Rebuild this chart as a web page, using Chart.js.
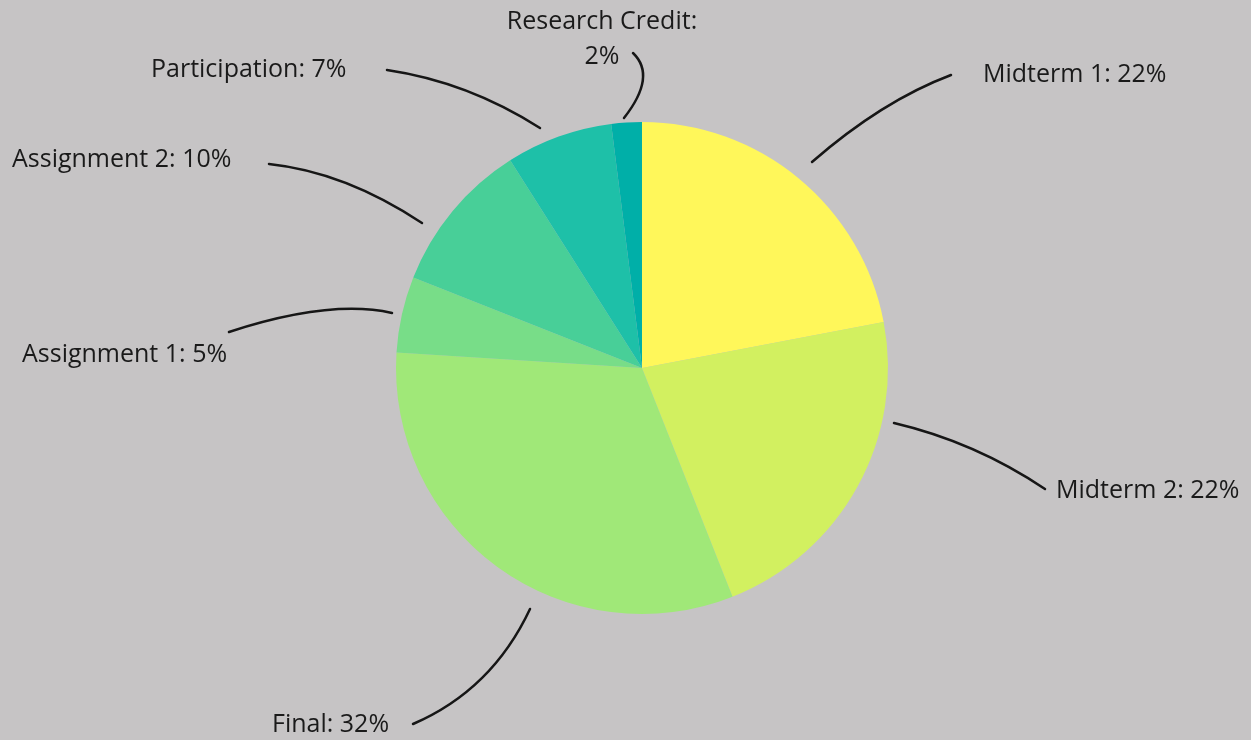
<!DOCTYPE html>
<html>
<head>
<meta charset="utf-8">
<script src="https://cdn.jsdelivr.net/npm/chart.js@4"></script>
<style>
html,body{margin:0;padding:0;background:#c6c4c5;}
#wrap{width:1251px;height:740px;position:relative;}
</style>
</head>
<body>
<div id="wrap"><canvas id="c" width="1251" height="740"></canvas></div>
<script>
const categories = ["Midterm 1", "Midterm 2", "Final", "Assignment 1", "Assignment 2", "Participation", "Research Credit"];
const values = [22, 22, 32, 5, 10, 7, 2];
const colors = ["#fff75a", "#d2f060", "#a0e878", "#78dd88", "#48cf98", "#1ec0a8", "#00afa8"];

// annotation layout: label text lines, anchor, leader curve (start, control, end)
const labelLayout = [
  {lines:["Midterm 1: 22%"], x:983, y:75, align:"left", curve:[[812,162],[882,101],[951,75]]},
  {lines:["Midterm 2: 22%"], x:1056, y:491, align:"left", curve:[[894,423],[975,442],[1045,489]]},
  {lines:["Final: 32%"], x:272, y:725, align:"left", curve:[[530,609],[492,690],[413,724]]},
  {lines:["Assignment 1: 5%"], x:22, y:355, align:"left", curve:[[392,313],[330,299],[229,332]]},
  {lines:["Assignment 2: 10%"], x:12, y:160, align:"left", curve:[[422,223],[345,172],[269,164]]},
  {lines:["Participation: 7%"], x:151, y:70, align:"left", curve:[[540,128],[468,82],[387,70]]},
  {lines:["Research Credit:", "2%"], x:602, y:22, align:"center", lineH:35, curve:[[624,118],[657,76],[633,53]]}
];

const labelPlugin = {
  id: 'leaderLabels',
  afterDraw(chart) {
    const ctx = chart.ctx;
    ctx.save();
    labelLayout.forEach((L) => {
      const [p0, c, p1] = L.curve;
      ctx.beginPath();
      ctx.moveTo(p0[0], p0[1]);
      ctx.quadraticCurveTo(c[0], c[1], p1[0], p1[1]);
      ctx.strokeStyle = '#161616';
      ctx.lineWidth = 2.5;
      ctx.lineCap = 'round';
      ctx.stroke();
      ctx.fillStyle = '#1a1a1a';
      ctx.font = '25px "Open Sans", "Noto Sans", sans-serif';
      ctx.textBaseline = 'middle';
      ctx.textAlign = L.align;
      L.lines.forEach((t, k) => {
        ctx.fillText(t, L.x, L.y + k * (L.lineH || 0));
      });
    });
    ctx.restore();
  }
};

new Chart(document.getElementById('c'), {
  type: 'pie',
  data: {
    labels: categories,
    datasets: [{
      data: values,
      backgroundColor: colors,
      borderWidth: 0
    }]
  },
  options: {
    responsive: false,
    animation: false,
    layout: { padding: { top: 122, bottom: 126, left: 396, right: 363 } },
    plugins: { legend: { display: false }, tooltip: { enabled: false } }
  },
  plugins: [labelPlugin]
});
</script>
</body>
</html>
